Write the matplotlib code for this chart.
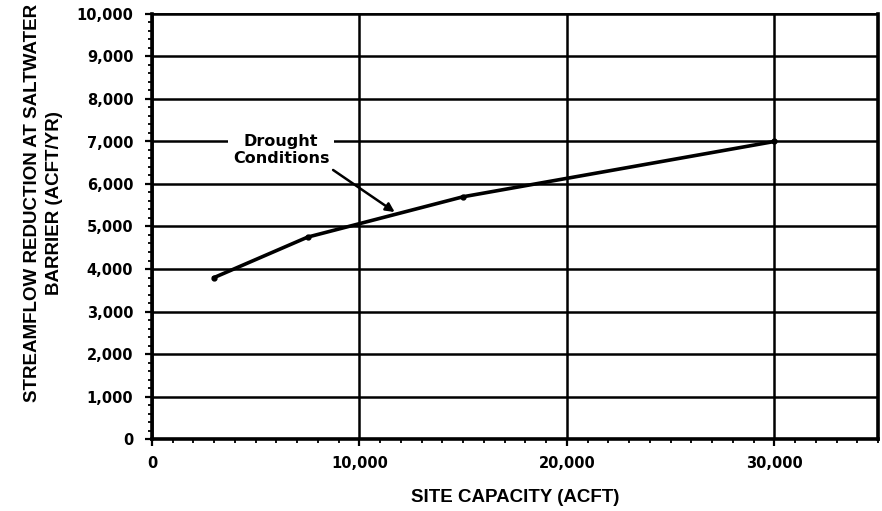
import matplotlib
matplotlib.use("Agg")
import matplotlib.pyplot as plt
from matplotlib.ticker import MultipleLocator, FuncFormatter

# site capacity (acft) vs streamflow reduction (acft/yr), drought conditions
capacity = [3000, 7500, 15000, 30000]
reduction = [3800, 4750, 5700, 7000]

plt.rcParams['font.family'] = ['Liberation Sans', 'DejaVu Sans']

fig = plt.figure(figsize=(8.82, 5.11), dpi=100)
ax = fig.add_axes([152 / 882, 72 / 511, 726 / 882, 425 / 511])

ax.set_xlim(0, 35000)
ax.set_ylim(0, 10000)
ax.xaxis.set_major_locator(MultipleLocator(10000))
ax.xaxis.set_minor_locator(MultipleLocator(1000))
ax.yaxis.set_major_locator(MultipleLocator(1000))
ax.yaxis.set_minor_locator(MultipleLocator(200))
fmt = FuncFormatter(lambda v, p: f"{int(v):,}")
ax.xaxis.set_major_formatter(fmt)
ax.yaxis.set_major_formatter(fmt)

ax.grid(True, which='major', color='black', linewidth=1.8)
ax.set_axisbelow(True)

for side in ['left', 'bottom', 'right']:
    ax.spines[side].set_linewidth(2.6)
ax.spines['top'].set_linewidth(1.4)

ax.tick_params(which='major', direction='out', length=5, width=1.6,
               labelsize=10.5)
ax.tick_params(axis='x', which='major', pad=7)
ax.tick_params(axis='y', which='major', pad=8.5)
ax.tick_params(which='minor', direction='out', length=3, width=1.3)
for lab in ax.get_xticklabels() + ax.get_yticklabels():
    lab.set_family('DejaVu Sans')
    lab.set_fontweight('bold')

ax.plot(capacity, reduction, color='black', linewidth=2.6,
        marker='o', markersize=3.5, zorder=3)

# label with white box so the 7,000 grid line is broken behind it
ax.text(6230, 6800, "Drought\nConditions", ha='center', va='center',
        fontsize=11.5, fontweight='bold', family='DejaVu Sans',
        linespacing=1.2, zorder=4,
        bbox=dict(boxstyle='square,pad=0.3', fc='white', ec='none'))
ax.annotate("", xy=(11700, 5340), xytext=(8730, 6330),
            arrowprops=dict(arrowstyle='-|>', color='black', lw=1.8,
                            mutation_scale=13, shrinkA=0, shrinkB=0),
            zorder=4)

ax.set_xlabel("SITE CAPACITY (ACFT)", fontsize=13.5, fontweight='bold')
ax.xaxis.set_label_coords(0.5, -0.137)
ax.xaxis.label.set_va('center')
ax.set_ylabel("STREAMFLOW REDUCTION AT SALTWATER\nBARRIER (ACFT/YR)",
              fontsize=13.5, fontweight='bold', linespacing=1.45)
ax.yaxis.set_label_coords(-0.122, 0.555)

fig.savefig("out.png", dpi=100)
